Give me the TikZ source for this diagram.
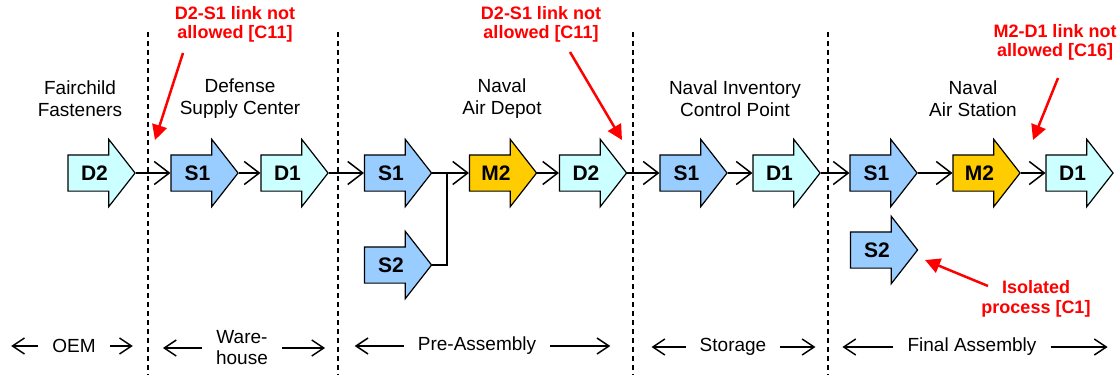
\documentclass[tikz,border=0pt]{standalone}
\usepackage{fontspec}
\setmainfont{Liberation Sans}
\usetikzlibrary{arrows.meta,shapes.arrows}
\definecolor{supplyblue}{HTML}{99CCFF}
\definecolor{depotcyan}{HTML}{CCFFFF}
\definecolor{makegold}{HTML}{FFCC00}
\tikzset{
    proc/.style={single arrow, draw, line width=1.2pt, minimum height=67pt,
                 minimum width=66pt, single arrow head extend=15.5pt,
                 single arrow tip angle=104, inner xsep=2pt, inner ysep=10.5pt,
                 text height=14pt, text depth=0pt,
                 font=\fontsize{21}{24}\selectfont\bfseries},
    src/.style={proc, fill=supplyblue},
    dlv/.style={proc, fill=depotcyan},
    mk/.style={proc, fill=makegold},
    link/.style={-{Straight Barb[length=15pt,width=23pt]}, line width=1.5pt},
    divider/.style={dash pattern=on 5pt off 4pt, line width=1.2pt},
    site/.style={align=center, font=\fontsize{19}{22}\selectfont},
    stage/.style={align=center, inner xsep=14pt, font=\fontsize{19}{21}\selectfont},
    span/.style={-{Straight Barb[length=12pt,width=16pt]}, line width=1.5pt},
    warn/.style={align=center, text=red, font=\fontsize{18}{19.5}\selectfont\bfseries},
    warnarrow/.style={-{Triangle[length=15pt,width=15pt]}, line width=2.5pt, draw=red},
}

\begin{document}
\begin{tikzpicture}[x=1pt, y=-1pt]

    \useasboundingbox (0,0) rectangle (1119,375);

    % stage dividers
    \draw[divider] (148,32) -- (148,375);
    \draw[divider] (338,32) -- (338,375);
    \draw[divider] (633,32) -- (633,375);
    \draw[divider] (828,32) -- (828,375);

    % sites
    \node[site] (fairchild) at (80,99) {Fairchild\\Fasteners};
    \node[site] (dsc) at (240,99) {Defense\\Supply Center};
    \node[site] (nad) at (502,99) {Naval\\Air Depot};
    \node[site] (nicp) at (735,99) {Naval Inventory\\Control Point};
    \node[site] (nas) at (973,99) {Naval\\Air Station};

    % processes
    \node[dlv] (d2oem) at (94.5,173) {D2};
    \node[src] (s1dsc) at (197.5,173) {S1};
    \node[dlv] (d1dsc) at (287.5,173) {D1};
    \node[src] (s1nad) at (391,173) {S1};
    \node[src] (s2nad) at (391,265) {S2};
    \node[mk]  (m2nad) at (496,173) {M2};
    \node[dlv] (d2nad) at (586,173) {D2};
    \node[src] (s1nicp) at (686.5,173) {S1};
    \node[dlv] (d1nicp) at (779.5,173) {D1};
    \node[src] (s1nas) at (876.5,173) {S1};
    \node[src] (s2nas) at (877,250) {S2};
    \node[mk]  (m2nas) at (979.5,173) {M2};
    \node[dlv] (d1nas) at (1072.5,173) {D1};

    % links
    \draw[link] (d2oem.tip) -- (s1dsc.tail);
    \draw[link] (s1dsc.tip) -- (d1dsc.tail);
    \draw[link] (d1dsc.tip) -- (s1nad.tail);
    \draw[link] (s1nad.tip) -- (m2nad.tail);
    \coordinate (merge) at (447,173);
    \draw[line width=1.5pt] (s2nad.tip) -| (merge);
    \draw[link] (m2nad.tip) -- (d2nad.tail);
    \draw[link] (d2nad.tip) -- (s1nicp.tail);
    \draw[link] (s1nicp.tip) -- (d1nicp.tail);
    \draw[link] (d1nicp.tip) -- (s1nas.tail);
    \draw[link] (s1nas.tip) -- (m2nas.tail);
    \draw[link] (m2nas.tip) -- (d1nas.tail);

    % rule violations
    \node[warn] (c11dsc) at (235,24.5) {D2-S1 link not\\allowed [C11]};
    \node[warn] (c11nad) at (541,24.5) {D2-S1 link not\\allowed [C11]};
    \node[warn] (c16nas) at (1055,42.5) {M2-D1 link not\\allowed [C16]};
    \node[warn] (c1nas) at (1036,299) {Isolated\\process [C1]};
    \coordinate (c11dscfrom) at (183,53);
    \coordinate (c11dscto) at (155,140);
    \coordinate (c11nadfrom) at (570,52);
    \coordinate (c11nadto) at (622,140);
    \coordinate (c16nasfrom) at (1058,78);
    \coordinate (c16nasto) at (1033,140);
    \coordinate (c1nasfrom) at (988,286);
    \coordinate (c1nasto) at (925,260);
    \draw[warnarrow] (c11dscfrom) -- (c11dscto);
    \draw[warnarrow] (c11nadfrom) -- (c11nadto);
    \draw[warnarrow] (c16nasfrom) -- (c16nasto);
    \draw[warnarrow] (c1nasfrom) -- (c1nasto);

    % stage spans
    \node[stage] (oem) at (74,346) {OEM};
    \node[stage] (warehouse) at (242,348) {Ware-\\house};
    \node[stage] (preassembly) at (477,346) {Pre-Assembly};
    \node[stage] (storage) at (733,347) {Storage};
    \node[stage] (finalassembly) at (972,347) {Final Assembly};
    \draw[span] (oem.west) -- ++(-27,0);
    \draw[span] (oem.east) -- ++(23,0);
    \draw[span] (warehouse.west) -- ++(-39,0);
    \draw[span] (warehouse.east) -- ++(43,0);
    \draw[span] (preassembly.west) -- ++(-49,0);
    \draw[span] (preassembly.east) -- ++(60,0);
    \draw[span] (storage.west) -- ++(-34,0);
    \draw[span] (storage.east) -- ++(35,0);
    \draw[span] (finalassembly.west) -- ++(-51,0);
    \draw[span] (finalassembly.east) -- ++(57,0);

\end{tikzpicture}
\end{document}
